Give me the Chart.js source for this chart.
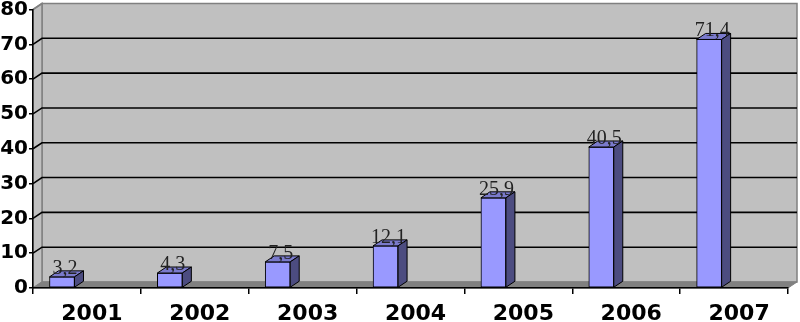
<!DOCTYPE html>
<html>
<head>
<meta charset="utf-8">
<script src="https://cdn.jsdelivr.net/npm/chart.js@4/dist/chart.umd.min.js"></script>
<style>
  html, body { margin: 0; padding: 0; background: #fff; }
</style>
</head>
<body>
<canvas id="chart" width="800" height="322"></canvas>
<script>
// data
const years = ['2001', '2002', '2003', '2004', '2005', '2006', '2007'];
const values = [3.2, 4.3, 7.5, 12.1, 25.9, 40.5, 71.4];
const valueLabels = ['3,2', '4,3', '7,5', '12,1', '25,9', '40,5', '71,4'];

// 3d depth of the walls / bars
const DX = 9, DY = -6;

function poly(ctx, pts, fill, stroke, lw) {
    ctx.beginPath();
    ctx.moveTo(pts[0][0], pts[0][1]);
    for (let i = 1; i < pts.length; i++) ctx.lineTo(pts[i][0], pts[i][1]);
    ctx.closePath();
    if (fill) { ctx.fillStyle = fill; ctx.fill(); }
    if (stroke) { ctx.strokeStyle = stroke; ctx.lineWidth = lw || 1; ctx.stroke(); }
}

// walls, floor and back gridlines (drawn before the axes)
const walls = {
    id: 'walls',
    beforeDraw(chart) {
        const ctx = chart.ctx;
        const a = chart.chartArea;
        const y = chart.scales.y;
        ctx.save();
        // back wall
        poly(ctx, [[a.left + DX, a.top + DY], [a.right + DX, a.top + DY],
                   [a.right + DX, a.bottom + DY], [a.left + DX, a.bottom + DY]], '#c0c0c0', '#808080', 1.5);
        // left side wall
        poly(ctx, [[a.left, a.top], [a.left + DX, a.top + DY],
                   [a.left + DX, a.bottom + DY], [a.left, a.bottom]], '#c0c0c0', '#808080', 1.5);
        // floor
        poly(ctx, [[a.left, a.bottom], [a.left + DX, a.bottom + DY],
                   [a.right + DX, a.bottom + DY], [a.right, a.bottom]], '#808080', '#808080', 1);
        // gridlines
        ctx.strokeStyle = '#000';
        ctx.lineWidth = 1.6;
        for (let v = 10; v < 80; v += 10) {
            const py = y.getPixelForValue(v);
            ctx.beginPath();
            ctx.moveTo(a.left, py);
            ctx.lineTo(a.left + DX, py + DY);
            ctx.lineTo(a.right + DX, py + DY);
            ctx.stroke();
        }
        // top edge diagonal
        ctx.strokeStyle = '#808080';
        ctx.beginPath();
        ctx.moveTo(a.left, a.top);
        ctx.lineTo(a.left + DX, a.top + DY);
        ctx.stroke();
        ctx.restore();
    }
};

// tops, sides and value labels of the bars
const bars3d = {
    id: 'bars3d',
    afterDatasetsDraw(chart) {
        const ctx = chart.ctx;
        const meta = chart.getDatasetMeta(0);
        ctx.save();
        meta.data.forEach((bar, i) => {
            const l = bar.x - bar.width / 2, r = bar.x + bar.width / 2;
            const t = bar.y, b = bar.base;
            poly(ctx, [[l, t], [l + DX, t + DY], [r + DX, t + DY], [r, t]], '#7a7acc', '#000', 1);
            poly(ctx, [[r, t], [r + DX, t + DY], [r + DX, b + DY], [r, b]], '#4c4c80', '#000', 1);
            ctx.fillStyle = '#222';
            ctx.font = '20px "Liberation Serif"';
            ctx.textAlign = 'center';
            ctx.textBaseline = 'alphabetic';
            ctx.fillText(valueLabels[i], bar.x + 3, t - 3);
        });
        ctx.restore();
    }
};

new Chart(document.getElementById('chart'), {
    type: 'bar',
    data: {
        labels: years,
        datasets: [{
            data: values.map((v, i) => ({ x: i, y: v })),
            xAxisID: 'xb',
            backgroundColor: '#9999ff',
            borderColor: '#000',
            borderWidth: 1,
            borderSkipped: false,
            barThickness: 25
        }]
    },
    options: {
        responsive: false,
        animation: false,
        layout: { padding: { top: 9.5, right: 12, left: 0, bottom: 0 } },
        plugins: { legend: { display: false }, tooltip: { enabled: false } },
        scales: {
            x: {
                type: 'category',
                offset: true,
                grid: { display: true, drawOnChartArea: false, offset: true, tickLength: 6, color: '#000', lineWidth: 1.5 },
                border: { display: true, color: '#000', width: 1.5 },
                ticks: { color: '#000', font: { family: 'DejaVu Sans', size: 22, weight: 'bold' }, padding: 7, labelOffset: 5, maxRotation: 0 },
                afterFit: s => { s.height = 34; s.paddingLeft = 0; s.paddingRight = 0; }
            },
            xb: {
                type: 'linear',
                display: false,
                offset: false,
                grace: 0,
                min: -0.2688,
                max: 6.7312
            },
            y: {
                min: 0,
                max: 80,
                ticks: { stepSize: 10, color: '#000', font: { family: 'DejaVu Sans', size: 20, weight: 'bold' }, padding: 1 },
                grid: { display: true, drawOnChartArea: false, tickLength: 4, color: '#000', lineWidth: 1.5 },
                border: { display: true, color: '#000', width: 1.5 },
                afterFit: s => { s.width = 33; s.paddingTop = 0; s.paddingBottom = 0; }
            }
        }
    },
    plugins: [walls, bars3d]
});
</script>
</body>
</html>
